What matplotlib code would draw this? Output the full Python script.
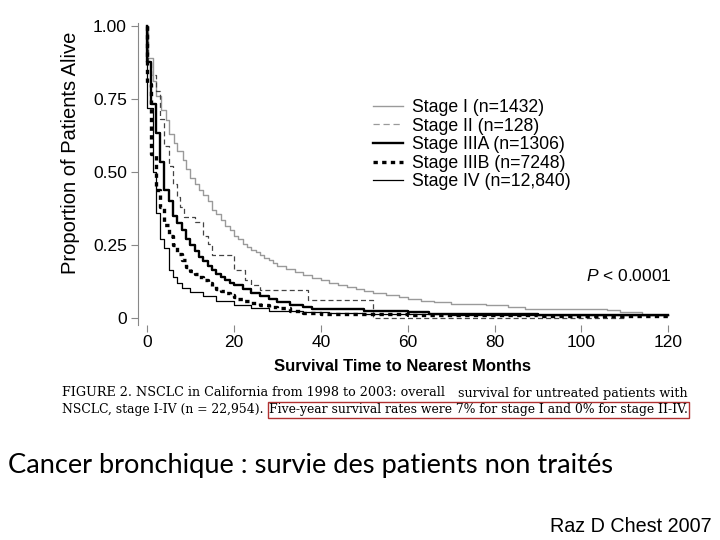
import matplotlib
matplotlib.use('Agg')
import matplotlib.pyplot as plt
from matplotlib.lines import Line2D

matplotlib.rcParams['font.family'] = ['Liberation Sans', 'DejaVu Sans']
matplotlib.rcParams['mathtext.fontset'] = 'custom'
matplotlib.rcParams['mathtext.it'] = 'Liberation Sans:italic'
matplotlib.rcParams['mathtext.rm'] = 'Liberation Sans'

# survival curves (months, proportion alive), step after
t_stage1 = [0, 0.3, 1.3, 2, 3.2, 4.4, 5, 6.3, 7, 8.2, 9, 10, 11, 12, 13, 14, 15, 16, 17, 18, 19,
            20, 21, 22, 23, 24, 25, 26, 27, 28, 29, 30, 32, 34, 36, 38, 40, 42, 44, 46, 48, 50,
            52, 55, 58, 60, 63, 66, 70, 74, 78, 83, 87, 97, 106, 109, 114, 120]
s_stage1 = [1.0, 0.89, 0.81, 0.76, 0.71, 0.676, 0.63, 0.60, 0.57, 0.54, 0.51, 0.48, 0.46, 0.44,
            0.42, 0.40, 0.37, 0.355, 0.335, 0.315, 0.30, 0.28, 0.27, 0.255, 0.245, 0.235, 0.225,
            0.215, 0.205, 0.198, 0.19, 0.18, 0.17, 0.158, 0.147, 0.138, 0.13, 0.121, 0.113,
            0.106, 0.099, 0.093, 0.086, 0.08, 0.072, 0.065, 0.059, 0.055, 0.05, 0.048, 0.046,
            0.04, 0.031, 0.03, 0.028, 0.021, 0.012, 0.012]

t_stage2 = [0, 0.3, 1, 2, 3, 4, 5, 6, 7, 7.5, 8.5, 11, 13, 14, 15, 20, 22.5, 24, 26, 37, 52, 110]
s_stage2 = [1.0, 0.88, 0.83, 0.775, 0.68, 0.59, 0.52, 0.46, 0.415, 0.38, 0.345, 0.33, 0.28,
            0.255, 0.215, 0.166, 0.131, 0.115, 0.097, 0.063, 0.002, 0.002]

t_stage3a = [0, 0.1, 1, 2, 3, 4, 5, 6, 7, 8, 9, 10, 11, 12, 13, 14, 15, 16, 17, 18, 19, 20, 22,
             24, 26, 28, 30, 33, 36, 38, 50, 60, 65, 90, 120]
s_stage3a = [1.0, 0.877, 0.733, 0.632, 0.535, 0.44, 0.40, 0.35, 0.325, 0.30, 0.27, 0.25, 0.23,
             0.21, 0.195, 0.18, 0.165, 0.15, 0.14, 0.13, 0.122, 0.115, 0.10, 0.087, 0.075,
             0.065, 0.056, 0.046, 0.038, 0.03, 0.025, 0.02, 0.015, 0.012, 0.012]

t_stage3b = [0, 0.05, 1, 2, 3, 4, 5, 6, 7, 8, 9, 10, 11, 12, 13, 14, 15, 16, 17, 18, 19, 20, 21,
             22, 24, 26, 28, 30, 33, 36, 40, 60, 90, 120]
s_stage3b = [1.0, 0.80, 0.56, 0.44, 0.38, 0.32, 0.28, 0.25, 0.22, 0.20, 0.175, 0.16, 0.15, 0.14,
             0.13, 0.12, 0.11, 0.10, 0.092, 0.085, 0.078, 0.072, 0.065, 0.06, 0.052, 0.045,
             0.04, 0.034, 0.026, 0.018, 0.014, 0.012, 0.008, 0.008]

t_stage4 = [0, 0.1, 1.3, 2, 3, 4, 5, 6, 7, 8, 10, 13, 16, 20, 24, 28, 36, 42, 50, 70, 120]
s_stage4 = [1.0, 0.72, 0.50, 0.36, 0.27, 0.24, 0.165, 0.14, 0.12, 0.105, 0.09, 0.075, 0.06,
            0.045, 0.035, 0.025, 0.02, 0.017, 0.014, 0.01, 0.01]

labels = ['Stage I (n=1432)', 'Stage II (n=128)', 'Stage IIIA (n=1306)',
          'Stage IIIB (n=7248)', 'Stage IV (n=12,840)']
xticks = [0, 20, 40, 60, 80, 100, 120]
yticks = [0, 0.25, 0.5, 0.75, 1.0]
ytick_labels = ['0', '0.25', '0.50', '0.75', '1.00']

fig = plt.figure(figsize=(7.2, 5.4), dpi=100)
ax = fig.add_axes([138 / 720, 1 - 325 / 540, 552 / 720, 302 / 540])

styles = [
    dict(color='#9a9a9a', lw=1.0),
    dict(color='#444444', lw=0.9, linestyle=(0, (4, 2.5))),
    dict(color='black', lw=1.7),
    dict(color='black', lw=2.4, linestyle=(0, (1.3, 1.3))),
    dict(color='black', lw=0.9),
]
curves = [(t_stage1, s_stage1), (t_stage2, s_stage2), (t_stage3a, s_stage3a),
          (t_stage3b, s_stage3b), (t_stage4, s_stage4)]
for (t, s), st in zip(curves, styles):
    ax.step(t, s, where='post', **st)

ax.set_xlim(-2.07, 125)
ax.set_ylim(-0.023, 1.009)
ax.set_xticks(xticks)
ax.set_yticks(yticks)
ax.set_yticklabels(ytick_labels)
for sp in ['top', 'right', 'bottom']:
    ax.spines[sp].set_visible(False)
ax.spines['left'].set_color('#888888')
ax.tick_params(axis='both', labelsize=12.5, color='#888888', direction='out', length=5, pad=3)
ax.tick_params(axis='x', pad=2)
ax.set_ylabel('Proportion of Patients Alive', fontsize=14.5)
ax.yaxis.set_label_coords(-0.105, 0.57)
ax.set_xlabel('Survival Time to Nearest Months', fontsize=12, fontweight='bold')
ax.xaxis.set_label_coords(0.48, -0.112)

# legend
handles = [Line2D([0], [0], **st) for st in styles]
handles[1] = Line2D([0], [0], color='#9a9a9a', lw=0.9, linestyle=(0, (5, 3)))
leg = ax.legend(handles, labels, loc='upper left', bbox_to_anchor=(373 / 720, 1 - 99 / 540),
                bbox_transform=fig.transFigure, frameon=False, fontsize=12.7,
                handlelength=1.7, handletextpad=0.5, labelspacing=0.09, borderpad=0,
                borderaxespad=0)

fig.text(672 / 720, 1 - 276 / 540, '$P$ < 0.0001', ha='right', va='center', fontsize=12.5)

# caption
cap = dict(family='DejaVu Serif', va='center')
fig.text(62 / 720, 1 - 393 / 540, 'FIGURE 2. NSCLC in California from 1998 to 2003: overall',
         ha='left', fontsize=9.2, **cap)
fig.text(688 / 720, 1 - 393 / 540, 'survival for untreated patients with', ha='right',
         fontsize=9.2, **cap)
fig.text(62 / 720, 1 - 410 / 540, 'NSCLC, stage I-IV (n = 22,954).', ha='left',
         fontsize=8.9, **cap)
fig.text(688 / 720, 1 - 410 / 540,
         'Five-year survival rates were 7% for stage I and 0% for stage II-IV.', ha='right',
         fontsize=8.9,
         bbox=dict(boxstyle='square,pad=0.12', facecolor='none', edgecolor='#b03030', lw=1),
         **cap)

fig.text(8 / 720, 1 - 466 / 540, 'Cancer bronchique : survie des patients non traités',
         family='Lato', fontsize=19.6, ha='left', va='center')
fig.text(712 / 720, 1 - 526 / 540, 'Raz D Chest 2007', fontsize=14.2, ha='right', va='center')

fig.savefig('out.png', dpi=100)
